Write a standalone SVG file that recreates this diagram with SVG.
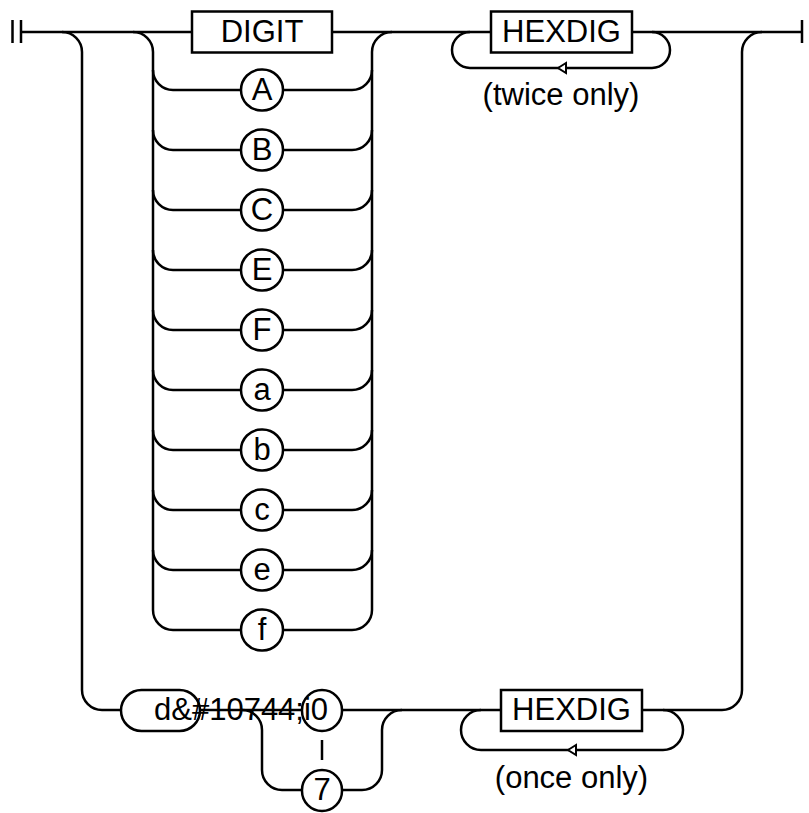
<svg xmlns="http://www.w3.org/2000/svg" width="809" height="813" viewBox="0 0 809 813">
<style>
.c{fill:none;stroke:#000;stroke-width:2.5}
.box{fill:#fff;stroke:#000;stroke-width:2.5}
.t{font-family:"Liberation Sans",Arial,sans-serif;font-size:31px;fill:#000;text-anchor:middle}
.ts{font-family:"Liberation Sans",Arial,sans-serif;font-size:31px;fill:#000}
.ar{fill:#fff;stroke:#000;stroke-width:2;stroke-linejoin:miter}
</style>
<rect width="809" height="813" fill="#fff"/>
<g id="connectors">
<path class="c" d="M12.5,20V43M21,20V43M21,32H192M332,32H491M632,32H802M802,20V43"/>
<path class="c" d="M62,32A20,20 0 0 1 82,52V690A20,20 0 0 0 102,710H121"/>
<path class="c" d="M133,32A20,20 0 0 1 153,52V610A20,20 0 0 0 173,630H241"/>
<path class="c" d="M283,630H352A20,20 0 0 0 372,610V52A20,20 0 0 1 392,32"/>
<path class="c" d="M153,70A20,20 0 0 0 173,90H241M283,90H352A20,20 0 0 0 372,70
M153,130A20,20 0 0 0 173,150H241M283,150H352A20,20 0 0 0 372,130
M153,190A20,20 0 0 0 173,210H241M283,210H352A20,20 0 0 0 372,190
M153,250A20,20 0 0 0 173,270H241M283,270H352A20,20 0 0 0 372,250
M153,310A20,20 0 0 0 173,330H241M283,330H352A20,20 0 0 0 372,310
M153,370A20,20 0 0 0 173,390H241M283,390H352A20,20 0 0 0 372,370
M153,430A20,20 0 0 0 173,450H241M283,450H352A20,20 0 0 0 372,430
M153,490A20,20 0 0 0 173,510H241M283,510H352A20,20 0 0 0 372,490
M153,550A20,20 0 0 0 173,570H241M283,570H352A20,20 0 0 0 372,550"/>
<path class="c" d="M470,32A18,18 0 0 0 452,50A18,18 0 0 0 470,68H652A18,18 0 0 0 670,50A18,18 0 0 0 652,32"/>
<path class="ar" d="M558,68L566,63V73Z"/>
<path class="c" d="M762,32A20,20 0 0 0 742,52V690A20,20 0 0 1 722,710H642"/>
<path class="c" d="M200,710H302M342,710H501"/>
<path class="c" d="M242,710A20,20 0 0 1 262,730V770A20,20 0 0 0 282,790H302M342,790H362A20,20 0 0 0 382,770V730A20,20 0 0 1 402,710"/>
<path class="c" d="M322,740V760"/>
<path class="c" d="M481,710A20,20 0 0 0 461,730A20,20 0 0 0 481,750H663A20,20 0 0 0 683,730A20,20 0 0 0 663,710"/>
<path class="ar" d="M568,750L576,745V755Z"/>
</g>
<g id="digit"><rect class="box" x="192" y="11.5" width="140" height="41"/><text class="t" x="262" y="41.5">DIGIT</text></g>
<g id="A"><rect class="box" x="241" y="69.5" width="42" height="41" rx="20.5"/><text class="t" x="262" y="99.5">A</text></g>
<g id="B"><rect class="box" x="241" y="129.5" width="42" height="41" rx="20.5"/><text class="t" x="262" y="159.5">B</text></g>
<g id="C"><rect class="box" x="241" y="189.5" width="42" height="41" rx="20.5"/><text class="t" x="262" y="219.5">C</text></g>
<g id="E"><rect class="box" x="241" y="249.5" width="42" height="41" rx="20.5"/><text class="t" x="262" y="279.5">E</text></g>
<g id="F"><rect class="box" x="241" y="309.5" width="42" height="41" rx="20.5"/><text class="t" x="262" y="339.5">F</text></g>
<g id="a"><rect class="box" x="241" y="369.5" width="42" height="41" rx="20.5"/><text class="t" x="262" y="399.5">a</text></g>
<g id="b"><rect class="box" x="241" y="429.5" width="42" height="41" rx="20.5"/><text class="t" x="262" y="459.5">b</text></g>
<g id="c"><rect class="box" x="241" y="489.5" width="42" height="41" rx="20.5"/><text class="t" x="262" y="519.5">c</text></g>
<g id="e"><rect class="box" x="241" y="549.5" width="42" height="41" rx="20.5"/><text class="t" x="262" y="579.5">e</text></g>
<g id="f"><rect class="box" x="241" y="609.5" width="42" height="41" rx="20.5"/><text class="t" x="262" y="639.5">f</text></g>
<g id="hexdig1"><rect class="box" x="491" y="11.5" width="141" height="41"/><text class="t" x="561.5" y="41.5">HEXDIG</text></g>
<g id="twice"><text class="t" x="561" y="105">(twice only)</text></g>
<g id="d-oval"><rect class="box" x="121" y="690" width="79" height="41" rx="20.5"/></g>
<g id="i0"><rect class="box" x="302" y="690" width="40" height="41" rx="20"/></g>
<g id="d-label"><text class="ts" x="154" y="720">d&amp;#10744;i0</text></g>
<g id="seven"><rect class="box" x="302" y="770" width="40" height="41" rx="20"/><text class="t" x="322" y="800">7</text></g>
<g id="hexdig2"><rect class="box" x="501" y="690" width="141" height="41"/><text class="t" x="571.5" y="720">HEXDIG</text></g>
<g id="once"><text class="t" x="571.5" y="788">(once only)</text></g>
</svg>
